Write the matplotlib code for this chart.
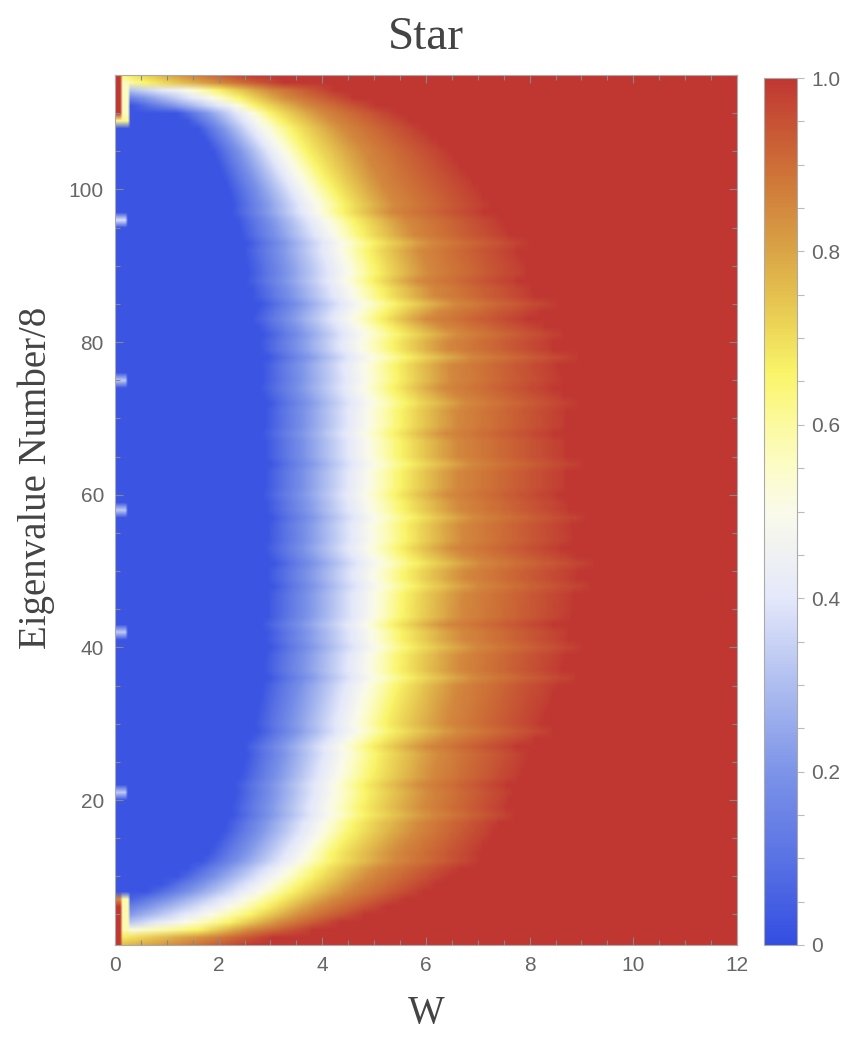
import numpy as np
import matplotlib
matplotlib.use("Agg")
import matplotlib.pyplot as plt
from matplotlib.colors import LinearSegmentedColormap
from matplotlib.ticker import MultipleLocator

# rows of the density plot (eigenvalue number / 8) and W range
eig_rows = np.arange(1, 116)
w_cols = np.arange(0, 12.0001, 0.05)

# per-row knots: W where the value reaches each level
eig_knots = [1, 2, 3, 4, 5, 6, 8, 10, 13, 16, 20, 25, 30, 35, 40, 45, 50, 55, 60,
             65, 70, 75, 80, 85, 90, 95, 100, 105, 108, 110, 111, 112, 113, 114, 115]
w_blue = [-3.0, -2.0, -1.0, -1.5, -0.8, -0.4, 0.6, 1.2, 1.8, 2.1, 2.3, 2.5, 2.7, 2.85, 2.9, 2.95, 2.95, 2.95, 2.9,
          2.9, 2.9, 2.85, 2.8, 2.7, 2.55, 2.4, 2.2, 1.9, 1.6, 1.2, 0.3, -0.3, -1.5, -2.0, -3.0]
w_white = [-2.0, -1.0, -0.3, 1.1, 1.6, 2.0, 2.6, 3.0, 3.5, 3.8, 4.0, 4.2, 4.45, 4.65, 4.75, 4.8, 4.8, 4.75, 4.7,
           4.7, 4.7, 4.65, 4.55, 4.45, 4.3, 4.0, 3.55, 3.1, 2.75, 2.5, 2.2, 1.7, 1.2, -0.5, -1.5]
w_yellow = [-1.0, 0.0, 1.6, 2.2, 2.6, 2.9, 3.4, 3.8, 4.2, 4.55, 4.8, 5.0, 5.2, 5.45, 5.5, 5.55, 5.6, 5.6, 5.5,
            5.5, 5.5, 5.45, 5.35, 5.2, 5.0, 4.7, 4.2, 3.7, 3.4, 3.0, 2.7, 2.4, 2.0, 0.6, 0.2]
w_orange = [1.2, 1.8, 2.6, 3.2, 3.6, 3.9, 4.5, 4.9, 5.4, 5.8, 6.0, 6.2, 6.4, 6.6, 6.7, 6.7, 6.75, 6.7, 6.6,
            6.6, 6.6, 6.5, 6.4, 6.2, 6.0, 5.7, 5.2, 4.8, 4.4, 4.0, 3.7, 3.3, 3.0, 2.0, 1.4]
w_red = [2.6, 3.0, 3.8, 4.3, 4.8, 5.2, 5.9, 6.4, 7.0, 7.3, 7.6, 7.9, 8.2, 8.5, 8.7, 8.8, 8.9, 8.8, 8.7,
         8.7, 8.7, 8.6, 8.4, 8.1, 7.9, 7.5, 7.0, 6.4, 5.9, 5.4, 5.0, 4.6, 4.2, 3.2, 2.6]
level_vals = [0.02, 0.45, 0.66, 0.85, 0.99]

# rows whose transition sits visibly right (+) or left (-) of their neighbours
streak_eig = [12, 18, 22, 27, 29, 36, 40, 43, 48, 51, 53, 57, 60, 64, 68, 72, 74, 78, 81, 83, 85, 88, 93, 97]
streak_shift = [0.2, 0.25, -0.2, -0.3, 0.3, 0.35, 0.3, -0.35, 0.3, 0.35, -0.25, 0.3, -0.2, 0.3, -0.25, 0.25,
                -0.2, 0.45, 0.3, -0.3, 0.4, -0.25, 0.3, -0.2]
# the streaks show mostly in the orange/red part, faintly in the blue/white part
streak_weight = [0.3, 0.3, 0.5, 0.9, 1.0]

# cells at the W = 0 edge that differ from the rest of the row
edge_e_lo = [1, 3, 3, 7, 110, 110, 109, 115, 96, 75, 58, 42, 21]
edge_e_hi = [2, 7, 6, 7, 114, 114, 109, 115, 96, 75, 58, 42, 21]
edge_w_hi = [0.15, 0.25, 0.15, 0.15, 0.25, 0.15, 0.3, 0.1, 0.2, 0.2, 0.2, 0.2, 0.2]
edge_val = [1.0, 0.58, 1.0, 0.85, 0.56, 1.0, 0.62, 1.0, 0.38, 0.33, 0.33, 0.33, 0.33]

cb_ticks = [0, 0.2, 0.4, 0.6, 0.8, 1.0]

# build the grid
stops = np.array([np.interp(eig_rows, eig_knots, k)
                  for k in (w_blue, w_white, w_yellow, w_orange, w_red)]).T
for e, s in zip(streak_eig, streak_shift):
    stops[e - 1] += s * np.array(streak_weight)
Z = np.array([np.interp(w_cols, s, level_vals, left=level_vals[0], right=1.0) for s in stops])
for lo, hi, wh, v in zip(edge_e_lo, edge_e_hi, edge_w_hi, edge_val):
    rows = (eig_rows >= lo) & (eig_rows <= hi)
    cols = w_cols <= wh
    Z[np.ix_(rows, cols)] = v

cmap = LinearSegmentedColormap.from_list("temp", [
    (0.0, "#344ee2"), (0.1, "#5a73e4"), (0.2, "#7d94e8"), (0.3, "#afbef0"),
    (0.4, "#e4e8fa"), (0.5, "#fafaeb"), (0.55, "#fcfcc8"), (0.6, "#fcfaa0"),
    (0.66, "#faf569"), (0.72, "#ebd255"), (0.8, "#daa546"), (0.9, "#cd6e37"),
    (1.0, "#c03732")])

W, H = 853, 1042
fig = plt.figure(figsize=(W / 100, H / 100), dpi=100)
ax = fig.add_axes([115 / W, 1 - 945 / H, 622 / W, 870 / H])
cax = fig.add_axes([764 / W, 1 - 945 / H, 33 / W, 867 / H])

im = ax.imshow(Z, origin="lower", aspect="auto", cmap=cmap, vmin=0, vmax=1,
               extent=[w_cols[0] - 0.025, w_cols[-1] + 0.025, 0.5, 115.5],
               interpolation="bilinear")
ax.set_xlim(0, 12)
ax.set_ylim(1, 115)

grey = "#666666"
ax.xaxis.set_major_locator(MultipleLocator(2))
ax.xaxis.set_minor_locator(MultipleLocator(0.5))
ax.yaxis.set_major_locator(MultipleLocator(20))
ax.yaxis.set_minor_locator(MultipleLocator(5))
ax.set_yticks([20, 40, 60, 80, 100])
ax.tick_params(which="both", direction="in", top=True, right=True, color="#888888", width=0.8,
               labelcolor=grey, labelsize=15)
ax.tick_params(which="major", length=6, pad=8)
ax.tick_params(which="minor", length=3.5)
for sp in ax.spines.values():
    sp.set_color("#aaaaaa")
    sp.set_linewidth(0.8)
for lab in ax.get_xticklabels() + ax.get_yticklabels():
    lab.set_family("Liberation Sans")

cb = fig.colorbar(im, cax=cax, ticks=cb_ticks)
cb.ax.set_yticklabels(["0", "0.2", "0.4", "0.6", "0.8", "1.0"])
cb.ax.yaxis.set_minor_locator(MultipleLocator(0.05))
cb.ax.tick_params(which="both", direction="out", color="#bbbbbb", width=0.8, length=5,
                  labelcolor=grey, labelsize=15, pad=5)
cb.outline.set_edgecolor("#aaaaaa")
cb.outline.set_linewidth(0.8)
for lab in cb.ax.get_yticklabels():
    lab.set_family("Liberation Sans")

fig.text(426 / W, 1 - 38 / H, "Star", ha="center", va="center",
         family="Liberation Serif", fontsize=34, color="#444444")
fig.text(426 / W, 1 - 1014 / H, "W", ha="center", va="center",
         family="Liberation Serif", fontsize=28, color="#444444")
fig.text(36 / W, 1 - 478 / H, "Eigenvalue Number/8", ha="center", va="center", rotation=90,
         family="Liberation Serif", fontsize=28, color="#444444")

fig.savefig("out.png", dpi=100)
